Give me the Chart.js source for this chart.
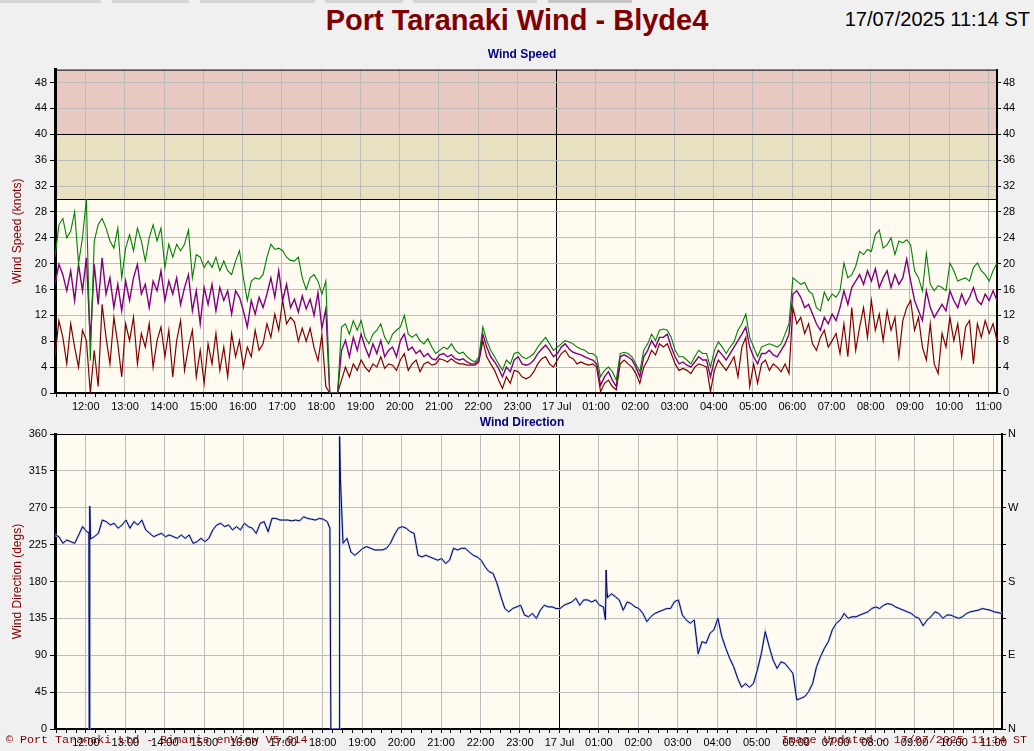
<!DOCTYPE html>
<html>
<head>
<meta charset="utf-8">
<title>Port Taranaki Wind - Blyde4</title>
<script src="https://cdn.jsdelivr.net/npm/chart.js@4/dist/chart.umd.min.js"></script>
<style>
  body { margin: 0; width: 1034px; height: 751px; overflow: hidden; position: relative; background: #f0f0f0; font-family: "Liberation Sans", Arial, sans-serif; }
  canvas { position: absolute; left: 0; }
  #speed { top: 60px; }
  #dir { top: 420px; }
  .txt { position: absolute; white-space: nowrap; z-index: 2; }
  .tab { position: absolute; top: 0; height: 3px; background: #d6d6d6; }
  #title { left: 0; width: 1034px; top: 6px; text-align: center; font-size: 29px; line-height: 29px; font-weight: bold; color: #800000; }
  #stamp { right: 4px; top: 9px; font-size: 20px; line-height: 20px; color: #000; }
  .sub { left: 0; width: 1044px; text-align: center; font-size: 12px; line-height: 12px; font-weight: bold; color: #000080; }
  .foot { top: 734px; font-family: "Liberation Mono", "Courier New", monospace; font-size: 11.7px; line-height: 12px; color: #800000; }
</style>
</head>
<body>
<div class="tab" style="left:0;width:101px"></div>
<div class="tab" style="left:112px;width:77px"></div>
<div class="tab" style="left:200px;width:115px"></div>
<div class="tab" style="left:325px;width:78px"></div>
<div class="tab" style="left:413px;width:124px"></div>
<div class="tab" style="left:548px;width:84px;background:#c4c4c4"></div>

<div id="title" class="txt">Port Taranaki Wind - Blyde4</div>
<div id="stamp" class="txt">17/07/2025 11:14 ST</div>
<div class="txt sub" style="top:48px">Wind Speed</div>
<div class="txt sub" style="top:416px">Wind Direction</div>
<div class="txt foot" style="left:6px">© Port Taranaki Ltd - Bimaris enView V5.014</div>
<div class="txt foot" style="right:7px">Image Updated - 17/07/2025 11:14 ST</div>

<canvas id="speed" width="1034" height="360"></canvas>
<canvas id="dir" width="1034" height="331"></canvas>

<script>
// 24 h window starting 16/07 11:13, one sample every 6 minutes
const STEP_MIN = 6;
const SPAN_MIN = 1440;
const FIRST_QUARTER = 2;   // 11:15
const MIDNIGHT = 767;      // 17 Jul 00:00

const hourLabels = ['12:00','13:00','14:00','15:00','16:00','17:00','18:00','19:00','20:00','21:00','22:00','23:00',
  '17 Jul','01:00','02:00','03:00','04:00','05:00','06:00','07:00','08:00','09:00','10:00','11:00'];

const speedTicks = [0,4,8,12,16,20,24,28,32,36,40,44,48];
const dirTicks = [0,45,90,135,180,225,270,315,360];
const dirRightLabels = ['N','','E','','S','','W','','N'];

// knots
const gust = [21,26,27,24,25,28,20,24,30,5,
  23.5,26,27,25.5,23.5,22.4,25.5,17.8,22.4,24.5,
  22,25.5,23.5,20.4,24,26,23.5,25.5,19.4,23,
  21,23,22,23,25.2,17.8,21.4,21,19.4,20.4,
  19.4,21,18.9,20.4,18.9,18.3,20.4,22,17.8,14.3,
  17.3,17.8,17.6,18.3,21,23,22.2,22.4,22,21,
  20.5,20.4,21,17.8,16,17.8,18.3,17.3,15.3,17.3,
  0,0,0,10.2,10.7,9.1,11.2,9.7,11.2,8.6,
  7.6,9.1,9.7,10.7,8.6,7.6,9.1,9.7,10.2,12,
  9.1,8.6,9.1,8.1,7.6,8.4,7.1,6.1,6.6,7.1,
  6.8,7.6,6.6,6.1,6.3,5.6,5.1,4.8,5.6,10.2,
  8.1,6.6,5.6,4.5,3.5,5.1,4.5,6.1,6.3,5.6,
  5.3,5.6,6.1,7.1,7.9,8.6,7.6,6.6,7.1,7.6,
  8.1,7.9,7.6,7.1,6.8,6.6,6.1,6.1,5.6,2.5,
  3.5,4,3.3,2,6.1,6.3,6.1,5.6,4.5,3.3,
  6.6,7.6,9.1,8.1,9.7,9.9,9.7,8.6,6.6,5.6,
  5.6,5.1,4.5,5.6,6.6,6.1,6.1,4,6.6,7.9,
  7.1,6.1,7.1,7.9,9.7,10.7,12.2,8.6,7.1,5.6,
  7.1,7.4,7.6,7.4,7.1,7.6,9.1,10.7,17.8,17.3,
  16.8,17.1,15.8,15.3,13.2,12.7,15.6,14.3,15.3,14.8,
  15.8,20.1,17.8,18.3,19.6,21.9,21.4,22.2,21.9,24.5,
  25.2,22.4,22.9,24,21.4,23.5,23.2,23.7,22.9,18.9,
  17.8,15.8,21.6,16.8,15.8,16.6,16.3,15.8,20.1,18.9,
  17.3,17.6,17.8,17.3,19.4,20.1,18.9,18.3,17.3,18.9,
  20.1];

const mean = [16.8,19.9,18.3,15.8,18.9,14.3,19.9,15.8,20.9,8,
  19.9,13.7,20.9,15.3,17.8,13.2,16.8,12.7,17.3,14.3,
  17.8,19.9,15.3,16.8,13.2,17.3,15.8,18.9,14.3,17.3,
  15.3,17.8,13.7,16.3,18.3,12.7,15.8,10.7,16.3,13.7,
  16.8,12.7,16.3,14.3,15.8,12.2,15.8,14.8,12.7,10.2,
  14.3,12.2,14.8,13.2,15.3,17.8,14.8,18.9,14.3,16.8,
  13.2,14.5,12.5,15,13,14.5,12,15.5,10,13,
  0,0,0,6.6,8.1,5.6,8.6,6.6,9.1,7.1,
  5.6,7.6,6.1,8.1,5.6,6.6,7.1,5.6,8.1,9.1,
  6.6,7.1,6.1,6.6,5.6,6.1,5.3,5.1,5.9,6.1,
  5.6,5.9,5.3,5.1,5.3,4.8,4.5,4.5,5.1,9.1,
  7.1,5.6,4.8,3.8,2.5,4,3.3,5.1,5.6,4.5,
  4.3,4.5,5.1,6.1,6.8,7.4,6.6,5.6,6.1,7.1,
  7.6,6.8,6.3,6.1,5.9,5.6,5.3,5.1,4.5,1.2,
  2.5,3.3,2,1,5.6,5.9,5.6,5.1,4,2.5,
  5.6,6.6,8.1,7.1,8.6,8.6,9.1,7.1,5.6,4.5,
  4.8,4.3,4,4.8,5.6,5.1,5.1,2.5,5.1,6.6,
  5.9,5.1,6.1,7.1,8.1,9.1,10.2,7.1,5.6,4.5,
  6.1,6.1,6.6,5.9,5.6,6.6,7.6,9.1,15.3,15.8,
  14.8,13.2,13.7,12.2,10.7,9.7,11.7,10.7,12.2,11.2,
  13.2,15.8,13.7,16.3,17.3,18.3,16.8,18.9,17.3,19.2,
  16.3,17.8,18.9,16.3,18.3,16.8,17.8,20.7,17.3,14.3,
  12.7,11.2,15.8,13.2,11.7,12.7,13.7,12.7,15.8,14.3,
  13.2,15.3,13.7,14.8,16.3,14.3,13.7,15.3,14.3,15.8,
  14.3];

const lull = [5.6,11.2,8.6,4.5,10.7,7.1,4,9.7,8.1,0,
  6.6,1,13.7,8.6,4.5,11.7,7.6,2.5,10.7,8.1,
  11.7,4.5,9.2,7.1,10.7,4,8.1,10.2,5.6,9.7,
  2.5,8.1,11.2,3.5,7.1,9.7,2.5,6.6,1.5,7.6,
  4.5,9.2,3.5,7.1,2.5,9.2,5.6,8.1,4,7.1,
  5.6,9.7,6.6,7.6,10.7,8.6,12.2,9.7,14.3,10.7,
  11.7,11,8,10,8,10,7,5,9,1,
  0,0,0,2,4,2.5,4.5,3.5,5.1,4,
  3.3,4.5,4,5.6,3.8,4.5,4.3,3.5,5.1,6.1,
  3.5,4.5,5.1,3.3,4.5,4.8,4.3,4.5,5.3,5.1,
  4.8,5.3,4.8,4.5,4.5,4.3,4.3,4.3,4.8,8.1,
  5.6,4.5,3.5,2,0.7,2.5,1.5,3.5,3.3,2.5,
  2.2,2.5,3.3,4.5,5.3,5.6,4.5,4,5.1,6.1,
  6.6,5.6,5.3,4.5,4.8,4.5,4.3,4.5,4,0.2,
  1.5,2,1,0.5,4.5,5.1,4.5,4,3,1.5,
  4,5.1,6.6,5.9,7.6,7.1,7.6,6.1,4.5,3.5,
  3.8,3.5,3,4,4.5,4.3,4,0.2,3.5,5.1,
  4.3,3.5,4.5,5.6,2.5,7.1,8.6,1,4.5,1.5,
  4.5,5.1,3.5,4.5,4,3.3,4.5,3,13.2,10.7,
  11.7,9.2,10.7,7.6,6.6,8.6,9.7,7.1,8.1,9.2,
  6.1,10.7,5.6,13.2,6.6,10.2,13.2,8.6,14.3,9.7,
  12.2,8.1,12.7,9.7,11.7,5.6,11.2,13.2,14.3,9.7,
  11.7,7.1,5.1,10.7,4.5,3,9.2,7.1,11.7,8.1,
  10.7,5.6,10.2,11.2,4.5,10.7,8.6,11.2,9.2,10.7,
  8.1];

// degrees
const direction = [236.8,234.7,226.6,230.7,228.6,226.6,236.8,247,240.8,232,
  234.7,238.8,255,253,249,251,245,249,255,245,
  253,249,255,243,238.8,234.7,236.8,238.8,234.7,236.8,
  234.7,232.7,236.8,232.7,236.8,226.6,228.6,232.7,228.6,232.7,
  243,249,251,247,249,243,247,243,251,247,
  245,238.8,251,253,240.8,257,257,255,255,255,
  254,255,254,259,257,256,255,257,256,253,
  0,0,0,226.6,232.7,216,212,216,220.5,222.5,
  220.5,218.5,218.5,218.5,220.5,226.6,236.8,245,247,245,
  240.8,238.8,212,210,212,210,208,206,208,202,
  206,220.5,218.5,220.5,220.5,216,212,210,206,198,
  192,190,178,161.5,147,143,147,149,151,139,
  137,141,135,145,151,149,149,147,147,151,
  153,155,159.5,151,157.5,157.5,155,157.5,151,149,
  160,165,161.5,157.5,145,155,153,149,147,141,
  131,137,141,143,145,147,147,155.4,157.5,139,
  133,129,133,92,106.6,104.6,116.8,121,135,112.7,
  98.5,86,76,62,51,55.4,51,55.4,72,92,
  118.8,100.5,84,74,82,80,74,68,35.4,37.4,
  39.5,45.6,55.4,76,88.3,98.5,106.6,121,129,133,
  141,135,137,137,139,141,143,147,149,147,
  151,153,152,149,147,145,143,141,137,135,
  126,133,137,143,141,135,139,139,137,135,
  137,141,143,144,145,147,146,145,143,142,
  141];

// short glitches between the 6 minute samples (minutes from start)
const dirGlitchTimes = [51.5, 52, 52.6, 53.1, 418, 419.5, 432.5, 433, 434, 837, 838, 839.5];
const dirGlitchValues = [240, 0, 0, 272, 245, 0, 180, 357, 306, 133, 194, 165];

const toPoints = arr => arr.map((v, i) => ({ x: i * STEP_MIN, y: v }));

const dirPoints = toPoints(direction)
  .concat(dirGlitchTimes.map((t, k) => ({ x: t, y: dirGlitchValues[k] })))
  .sort((a, b) => a.x - b.x);

const FONT = { family: 'Liberation Sans', size: 11 };
const GRID = '#bcbcbc';

// quarter hour ticks, labels and grid lines on the hours only
const isHour = k => k >= 3 && (k - 3) % 4 === 0;
function quarterTicks(axis) {
  const t = [];
  for (let m = FIRST_QUARTER; m <= SPAN_MIN; m += 15) t.push({ value: m });
  axis.ticks = t;
}
function xAxis(height) {
  return {
    type: 'linear', min: 0, max: SPAN_MIN,
    afterBuildTicks: quarterTicks,
    afterFit: s => { s.height = height; },
    ticks: {
      autoSkip: false, maxRotation: 0, padding: 3, color: '#000', font: FONT,
      callback: (v, k) => isHour(k) ? hourLabels[(k - 3) / 4] : ''
    },
    grid: {
      tickLength: 4, tickColor: '#000',
      color: c => !c.tick || !isHour(c.index) ? 'rgba(0,0,0,0)' : (c.tick.value === MIDNIGHT ? '#000' : GRID)
    },
    border: { color: '#000', width: 2 }
  };
}

const frame = {
  id: 'frame',
  afterDraw(chart) {
    const { ctx, chartArea: a } = chart;
    ctx.save();
    ctx.strokeStyle = '#000';
    ctx.lineWidth = 1;
    ctx.beginPath();
    ctx.moveTo(a.left, a.top + 0.5);
    ctx.lineTo(a.right, a.top + 0.5);
    ctx.stroke();
    ctx.restore();
  }
};

const speedZones = {
  id: 'speedZones',
  beforeDraw(chart) {
    const { ctx, chartArea: a, scales: { y } } = chart;
    const y30 = y.getPixelForValue(30), y40 = y.getPixelForValue(40);
    ctx.save();
    ctx.fillStyle = '#fffbf0';
    ctx.fillRect(a.left, a.top, a.width, a.height);
    ctx.fillStyle = '#e7e1c1';
    ctx.fillRect(a.left, y40, a.width, y30 - y40);
    ctx.fillStyle = '#e7c9c1';
    ctx.fillRect(a.left, a.top, a.width, y40 - a.top);
    ctx.restore();
  },
  beforeDatasetsDraw(chart) {
    const { ctx, chartArea: a, scales: { y } } = chart;
    ctx.save();
    ctx.strokeStyle = '#000';
    ctx.lineWidth = 1;
    [30, 40].forEach(v => {
      const py = Math.round(y.getPixelForValue(v)) + 0.5;
      ctx.beginPath();
      ctx.moveTo(a.left, py);
      ctx.lineTo(a.right, py);
      ctx.stroke();
    });
    ctx.restore();
  }
};

const creamBg = {
  id: 'creamBg',
  beforeDraw(chart) {
    const { ctx, chartArea: a } = chart;
    ctx.save();
    ctx.fillStyle = '#fffbf0';
    ctx.fillRect(a.left, a.top, a.width, a.height);
    ctx.restore();
  }
};

function yTitle(text) {
  return { display: true, text: text, color: '#800000', font: { family: 'Liberation Sans', size: 12 }, padding: { top: 10, bottom: 0 } };
}

new Chart(document.getElementById('speed'), {
  type: 'line',
  data: {
    datasets: [
      { label: 'Gust', data: toPoints(gust), borderColor: '#008000', borderWidth: 1.1 },
      { label: 'Mean', data: toPoints(mean), borderColor: '#800080', borderWidth: 1.4 },
      { label: 'Lull', data: toPoints(lull), borderColor: '#800000', borderWidth: 1.2 }
    ]
  },
  options: {
    responsive: false,
    animation: false,
    layout: { padding: { top: 7, left: 0, right: 0, bottom: 0 } },
    elements: { point: { radius: 0 }, line: { tension: 0 } },
    plugins: { legend: { display: false }, tooltip: { enabled: false } },
    scales: {
      x: xAxis(27),
      y: {
        position: 'left', min: 0, max: 50,
        afterBuildTicks: s => { s.ticks = speedTicks.map(v => ({ value: v })); },
        afterFit: s => { s.width = 55; },
        ticks: { padding: 3, color: '#000', font: FONT },
        grid: { color: GRID, tickLength: 5, tickColor: '#000' },
        border: { color: '#000', width: 3 },
        title: yTitle('Wind Speed (knots)')
      },
      y2: {
        position: 'right', min: 0, max: 50,
        afterBuildTicks: s => { s.ticks = speedTicks.map(v => ({ value: v })); },
        afterFit: s => { s.width = 37; },
        ticks: { padding: 2, color: '#000', font: FONT },
        grid: { drawOnChartArea: false, tickLength: 4, tickColor: '#000' },
        border: { color: '#000', width: 2 }
      }
    }
  },
  plugins: [speedZones, frame]
});

new Chart(document.getElementById('dir'), {
  type: 'line',
  data: {
    datasets: [
      { label: 'Direction', data: dirPoints, borderColor: '#000060', borderWidth: 1 },
      { label: 'Direction raw', data: dirPoints, borderColor: '#b4c8ee', borderWidth: 2.2 }
    ]
  },
  options: {
    responsive: false,
    animation: false,
    layout: { padding: { top: 14, left: 0, right: 0, bottom: 0 } },
    elements: { point: { radius: 0 }, line: { tension: 0 } },
    plugins: { legend: { display: false }, tooltip: { enabled: false } },
    scales: {
      x: xAxis(22),
      y: {
        position: 'left', min: 0, max: 360,
        afterBuildTicks: s => { s.ticks = dirTicks.map(v => ({ value: v })); },
        afterFit: s => { s.width = 55; },
        ticks: { padding: 3, color: '#000', font: FONT },
        grid: { color: GRID, tickLength: 5, tickColor: '#000' },
        border: { color: '#000', width: 3 },
        title: yTitle('Wind Direction (degs)')
      },
      y2: {
        position: 'right', min: 0, max: 360,
        afterBuildTicks: s => { s.ticks = dirTicks.map(v => ({ value: v })); },
        afterFit: s => { s.width = 32; },
        ticks: { padding: 2, color: '#000', font: FONT, callback: (v, k) => dirRightLabels[k] },
        grid: { drawOnChartArea: false, tickLength: 4, tickColor: '#000' },
        border: { color: '#000', width: 2 }
      }
    }
  },
  plugins: [creamBg, frame]
});
</script>
</body>
</html>
